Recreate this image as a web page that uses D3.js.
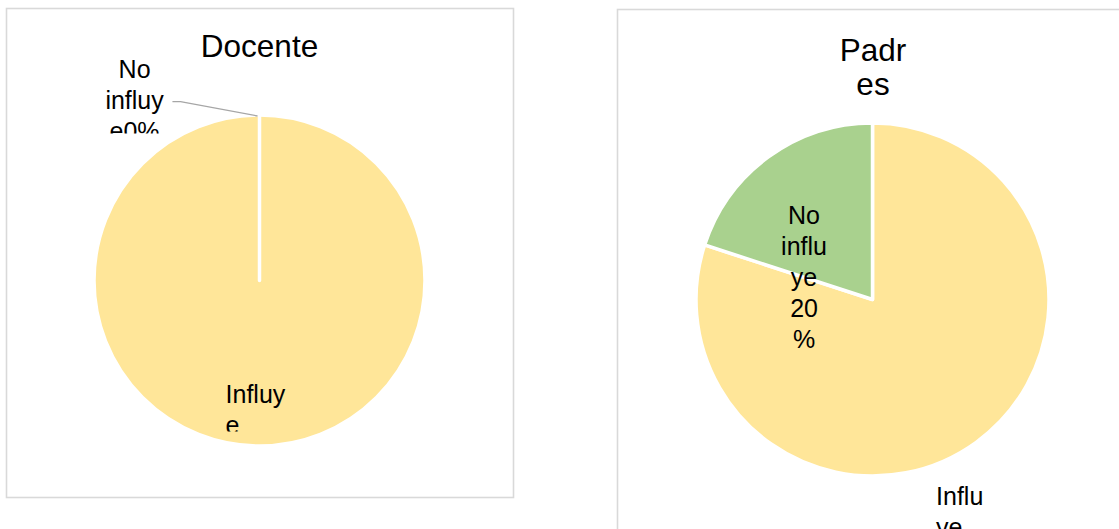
<!DOCTYPE html>
<html>
<head>
<meta charset="utf-8">
<script src="https://cdn.jsdelivr.net/npm/d3@7"></script>
<style>
  html, body { margin: 0; padding: 0; background: #fff; overflow: hidden; }
  svg { display: block; font-family: "Liberation Sans", Arial, sans-serif; }
</style>
</head>
<body>
<svg id="chart" width="1119" height="529"></svg>
<script>
// ---- Data ----
const categories = ["Influye", "No influye"];
const docenteValues = [100, 0];
const padresValues = [80, 20];
const docenteTitle = ["Docente"];
const padresTitle = ["Padr", "es"];
const docenteLabelLines = [["Influy", "e", "100%"], ["No", "influy", "e0%"]];
const padresLabelLines = [["Influ", "ye", "80%"], ["No", "influ", "ye", "20", "%"]];
const sliceColors = ["#FFE699", "#A9D18E"];

// ---- Layout ----
const svg = d3.select("#chart");
const color = d3.scaleOrdinal().domain(categories).range(sliceColors);
const pie = d3.pie().sort(null).value(d => d.value);

const panels = [
  {
    values: docenteValues, title: docenteTitle, labels: docenteLabelLines,
    box: {x: 6.5, y: 8.5, w: 507, h: 489},
    cx: 259.5, cy: 280.5, r: 165.5,
    titleX: 259.5, titleY: 57, titleLH: 34,
    labelPos: [
      {dx: -0.205, dy: 0.743, anchor: "start", clipTop: 0.60, clipBottom: 0.912},
      {dx: -0.755, dy: -1.226, anchor: "middle", clipTop: -1.40, clipBottom: -0.888,
       leader: [[-0.526, -1.081], [-0.477, -1.081], [-0.012, -0.994]]}
    ]
  },
  {
    values: padresValues, title: padresTitle, labels: padresLabelLines,
    box: {x: 617.5, y: 9.5, w: 560, h: 560},
    cx: 872.5, cy: 299.5, r: 176.5,
    titleX: 873, titleY: 61, titleLH: 34,
    labelPos: [
      {dx: 0.36, dy: 1.163, anchor: "start", clipTop: 1.0, clipBottom: 2.0},
      {dx: -0.388, dy: -0.428, anchor: "middle", clipTop: -0.8, clipBottom: 0.6}
    ]
  }
];

const labelFont = 25, labelLH = 31;

panels.forEach((p, pi) => {
  const g = svg.append("g");
  g.append("rect")
    .attr("x", p.box.x).attr("y", p.box.y)
    .attr("width", p.box.w).attr("height", p.box.h)
    .attr("fill", "#fff").attr("stroke", "#d9d9d9").attr("stroke-width", 1.6);

  // title
  const t = g.append("text")
    .attr("text-anchor", "middle")
    .attr("font-size", 31.5).attr("fill", "#000");
  p.title.forEach((line, i) => {
    t.append("tspan").attr("x", p.titleX).attr("y", p.titleY + i * p.titleLH).text(line);
  });

  const data = categories.map((c, i) => ({category: c, value: p.values[i]}));
  const arcs = pie(data);
  const arc = d3.arc().innerRadius(0).outerRadius(p.r);

  const pg = g.append("g").attr("transform", `translate(${p.cx},${p.cy})`);
  pg.selectAll("path.slice")
    .data(arcs)
    .join("path")
    .attr("class", "slice")
    .attr("d", arc)
    .attr("fill", d => color(d.data.category))
    .attr("stroke", "#fff")
    .attr("stroke-width", 3.5)
    .attr("stroke-linejoin", "round");

  // labels
  arcs.forEach((a, i) => {
    const lp = p.labelPos[i];
    const lines = p.labels[i];
    const clipId = `clip-${pi}-${i}`;
    svg.append("defs").append("clipPath").attr("id", clipId)
      .append("rect")
      .attr("x", -p.r * 2).attr("y", lp.clipTop * p.r)
      .attr("width", p.r * 4).attr("height", (lp.clipBottom - lp.clipTop) * p.r);
    if (lp.leader) {
      pg.append("polyline")
        .attr("points", lp.leader.map(q => [q[0] * p.r, q[1] * p.r].join(",")).join(" "))
        .attr("fill", "none").attr("stroke", "#a6a6a6").attr("stroke-width", 1.3);
    }
    const txt = pg.append("text")
      .attr("clip-path", `url(#${clipId})`)
      .attr("text-anchor", lp.anchor)
      .attr("font-size", labelFont)
      .attr("fill", "#000");
    lines.forEach((line, k) => {
      txt.append("tspan")
        .attr("x", lp.dx * p.r)
        .attr("y", lp.dy * p.r + k * labelLH)
        .text(line);
    });
  });
});
</script>
</body>
</html>
